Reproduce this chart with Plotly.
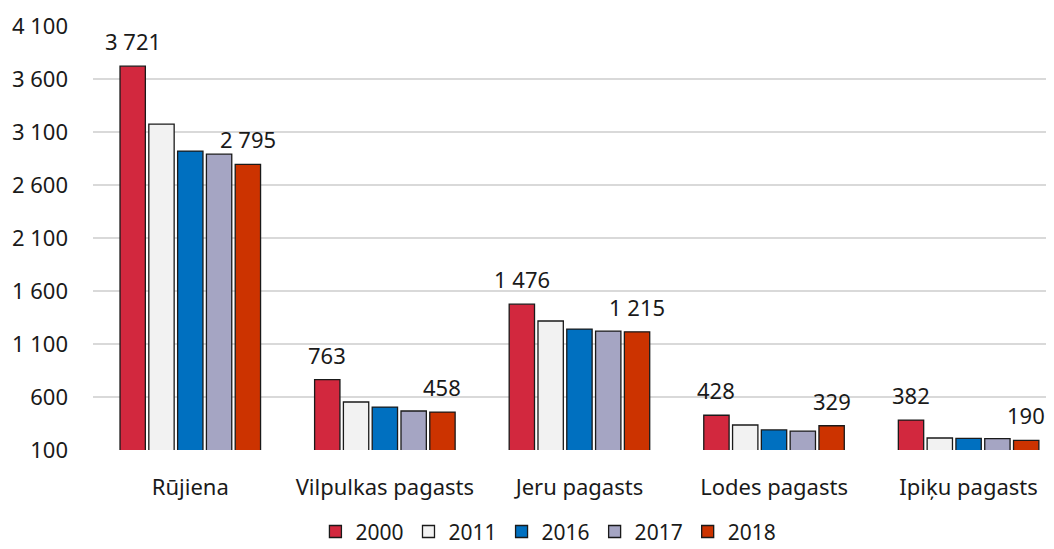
import plotly.graph_objects as go

categories = ["Rūjiena", "Vilpulkas pagasts", "Jeru pagasts", "Lodes pagasts", "Ipiķu pagasts"]
years = ["2000", "2011", "2016", "2017", "2018"]
v2000 = [3721, 763, 1476, 428, 382]
v2011 = [3175, 553, 1317, 336, 213]
v2016 = [2920, 505, 1241, 289, 210]
v2017 = [2891, 468, 1222, 279, 208]
v2018 = [2795, 458, 1215, 329, 190]
series = [v2000, v2011, v2016, v2017, v2018]
colors = ["#D2283E", "#F2F2F2", "#0070C0", "#A5A5C3", "#CC3300"]
labeled = {"2000", "2018"}
tickvals = [100, 600, 1100, 1600, 2100, 2600, 3100, 3600, 4100]

def fmt(v):
    return f"{v:,}".replace(",", " ")

FONT = "Noto Sans"
FS = 22
W, H = 1054, 549
ML, MR, MT, MB = 85, 0, 18, 107
XR = [-0.5, 4.48]
BARGAP = 0.26
px_per_cat = (W - ML - MR) / (XR[1] - XR[0])
slot = px_per_cat * (1 - BARGAP) / len(years)

fig = go.Figure()
annotations = []
for i, (yr, vals, col) in enumerate(zip(years, series, colors)):
    fig.add_trace(go.Bar(
        name=yr, x=categories, y=vals,
        marker=dict(color=col, line=dict(color="#1a1a1a", width=1.3)),
    ))
    if yr in labeled:
        for c, v in zip(categories, vals):
            annotations.append(dict(
                x=c, y=v, xref="x", yref="y", text=fmt(v), showarrow=False,
                xshift=(i - (len(years) - 1) / 2) * slot, yshift=8,
                yanchor="bottom", xanchor="center",
                font=dict(size=FS, color="#1a1a1a", family=FONT),
            ))

fig.update_layout(
    width=W, height=H,
    barmode="group", bargap=BARGAP, bargroupgap=0.12,
    plot_bgcolor="white", paper_bgcolor="white",
    margin=dict(l=ML, r=MR, t=MT, b=MB, autoexpand=False),
    font=dict(family=FONT, size=FS, color="#1a1a1a"),
    showlegend=True,
    legend=dict(orientation="h", x=0.47, xanchor="center", xref="paper",
                y=-0.193, yanchor="middle", yref="paper",
                font=dict(size=21, family=FONT), itemwidth=30, traceorder="normal"),
    annotations=annotations,
)
fig.update_xaxes(range=XR, showgrid=False, showline=False, ticks="", automargin=False,
                 tickfont=dict(size=FS, family=FONT), ticklabelstandoff=22)
fig.update_yaxes(range=[100, 4100], tickvals=tickvals, ticktext=[fmt(t) for t in tickvals],
                 showgrid=True, gridcolor="#D9D9D9", gridwidth=1.5, zeroline=False,
                 showline=False, tickfont=dict(size=FS, family=FONT), ticks="",
                 ticklabelstandoff=24, automargin=False)
fig.write_html("out.html")
